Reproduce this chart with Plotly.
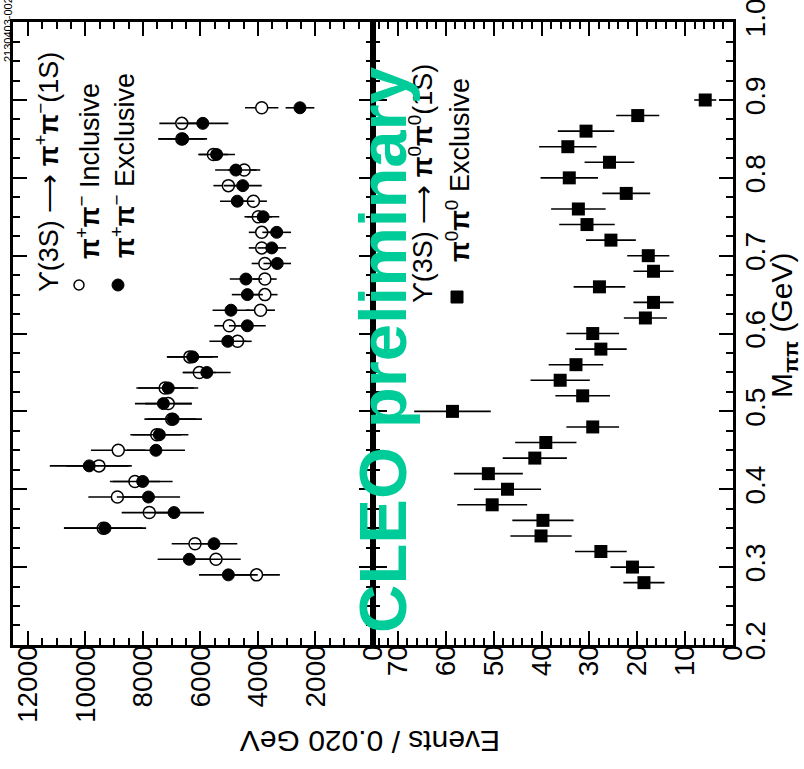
import plotly.graph_objects as go

# ---------------- data ----------------
# Upsilon(3S) -> pi+ pi- Upsilon(1S): mass bins (GeV)
m_pm = [0.29, 0.31, 0.33, 0.35, 0.37, 0.39, 0.41, 0.43, 0.45, 0.47, 0.49,
        0.51, 0.53, 0.55, 0.57, 0.59, 0.61, 0.63, 0.65, 0.67, 0.69, 0.71,
        0.73, 0.75, 0.77, 0.79, 0.81, 0.83, 0.85, 0.87, 0.89]
incl = [4050, 5460, 6190, 9380, 7780, 8890, 8280, 9530, 8860, 7520, 7000,
        7120, 7230, 6040, 6370, 4710, 5000, 3910, 3760, 3760, 3760, 3870,
        3870, 3990, 4160, 5030, 4480, 5550, 6650, 6650, 3870]
incl_err = [810, 860, 810, 1360, 960, 1010, 870, 1140, 950, 850, 850,
            810, 1000, 580, 800, 490, 520, 500, 440, 410, 460, 450,
            450, 480, 470, 520, 560, 500, 800, 780, 580]
excl = [5030, 6390, 5530, 9320, 6920, 7810, 8010, 9870, 7550, 7430, 6950,
        7290, 7120, 5780, 6270, 5050, 4370, 4940, 4370, 4420, 3330, 3520,
        3350, 3820, 4720, 4530, 4770, 5440, 6620, 5920, 2540]
excl_err = [1020, 1100, 810, 1430, 1040, 1100, 1040, 1370, 1010, 1010, 1000,
            990, 1040, 830, 880, 640, 640, 640, 540, 560, 480, 500,
            500, 560, 600, 660, 720, 640, 850, 890, 500]

# Upsilon(3S) -> pi0 pi0 Upsilon(1S)
m_00 = [0.28, 0.30, 0.32, 0.34, 0.36, 0.38, 0.40, 0.42, 0.44, 0.46, 0.48,
        0.50, 0.52, 0.54, 0.56, 0.58, 0.60, 0.62, 0.64, 0.66, 0.68, 0.70,
        0.72, 0.74, 0.76, 0.78, 0.80, 0.82, 0.84, 0.86, 0.88, 0.90]
n00 = [18.6, 21.0, 27.6, 40.1, 39.7, 50.3, 47.1, 51.1, 41.4, 39.1, 29.3,
       58.6, 31.4, 36.1, 32.8, 27.6, 29.3, 18.3, 16.6, 27.9, 16.6, 17.7,
       25.5, 30.5, 32.3, 22.3, 34.2, 25.8, 34.5, 30.7, 19.9, 5.8]
n00_err = [4.3, 4.6, 5.4, 6.4, 6.4, 7.3, 7.0, 7.2, 6.7, 6.4, 5.5,
           8.0, 5.7, 6.2, 5.7, 5.4, 5.5, 4.5, 4.2, 5.4, 4.2, 4.4,
           5.2, 5.8, 5.7, 5.0, 6.0, 5.2, 6.0, 5.9, 4.5, 2.3]

ev_ticks_pm = [0, 2000, 4000, 6000, 8000, 10000, 12000]
ev_ticks_00 = [0, 10, 20, 30, 40, 50, 60, 70]
m_ticks = [0.2, 0.3, 0.4, 0.5, 0.6, 0.7, 0.8, 0.9, 1.0]
m_ticktext = ["0.2", "0.3", "0.4", "0.5", "0.6", "0.7", "0.8", "0.9", "1.0"]

# ---------------- layout helpers ----------------
W, H = 804, 769
L, R, T, B = 13, 71, 22, 124
PW, PH = W - L - R, H - T - B


def px(x):
    return (x - L) / PW


def py(y):
    return (H - B - y) / PH


FONT = "Liberation Sans, Arial, Helvetica, sans-serif"
GREEN = "#00CC99"

fig = go.Figure()

err_style = dict(type="data", color="black", thickness=1.6, width=0)

fig.add_trace(go.Scatter(
    x=incl, y=m_pm, mode="markers", xaxis="x", yaxis="y",
    marker=dict(symbol="circle", size=12, color="white",
                line=dict(color="black", width=1.5)),
    error_x=dict(array=incl_err, **err_style), showlegend=False))
fig.add_trace(go.Scatter(
    x=excl, y=m_pm, mode="markers", xaxis="x", yaxis="y",
    marker=dict(symbol="circle", size=12, color="black",
                line=dict(color="black", width=1)),
    error_x=dict(array=excl_err, **err_style), showlegend=False))
fig.add_trace(go.Scatter(
    x=n00, y=m_00, mode="markers", xaxis="x2", yaxis="y2",
    marker=dict(symbol="square", size=13, color="black"),
    error_x=dict(array=n00_err, **err_style), showlegend=False))

ax = dict(showline=True, linecolor="black", linewidth=3, mirror="allticks",
          ticks="inside", ticklen=14, tickwidth=2, tickcolor="black",
          showgrid=False, zeroline=False, automargin=False,
          ticklabeloverflow="allow",
          tickfont=dict(family=FONT, size=28, color="black"))
minor = lambda d: dict(dtick=d, ticks="inside", ticklen=7, tickwidth=2,
                       tickcolor="black", showgrid=False)

fig.update_layout(
    template="none",
    width=W, height=H,
    margin=dict(l=L, r=R, t=T, b=B, pad=0, autoexpand=False),
    paper_bgcolor="white", plot_bgcolor="white",
    xaxis=dict(domain=[0, 0.5], range=[12520, 0], anchor="y",
               tickvals=ev_ticks_pm, ticktext=[str(v) for v in ev_ticks_pm],
               tickangle=-90, minor=minor(500), ticklabelstandoff=-14, **ax),
    xaxis2=dict(domain=[0.5, 1], range=[75.2, 0], anchor="y2",
                tickvals=ev_ticks_00, ticktext=[str(v) for v in ev_ticks_00],
                tickangle=-90, minor=minor(2), ticklabelstandoff=-14, **ax),
    yaxis=dict(domain=[0, 1], range=[0.1999, 1.0002], anchor="x",
               tickvals=m_ticks, minor=minor(0.025), showticklabels=False, **ax),
    yaxis2=dict(domain=[0, 1], range=[0.1999, 1.0002], anchor="x2", side="right",
                tickvals=m_ticks, ticktext=m_ticktext, tickangle=-90,
                minor=minor(0.025), ticklabelstandoff=-5, **ax),
)

ann = []


def text(x, y, s, size=28, angle=-90, color="black", xa="center", ya="middle"):
    ann.append(dict(x=px(x), y=py(y), xref="paper", yref="paper", text=s,
                    showarrow=False, textangle=angle, xanchor=xa, yanchor=ya,
                    font=dict(family=FONT, size=size, color=color)))


pi = "<b>π</b>"
UPS = "ϒ(3S) ⟶ "
text(47, 172, UPS + pi + "<sup>+</sup>" + pi + "<sup>−</sup>(1S)", 27)
text(88, 171, pi + "<sup>+</sup>" + pi + "<sup>−</sup> Inclusive", 27)
text(123, 166, pi + "<sup>+</sup>" + pi + "<sup>−</sup> Exclusive", 27)
text(421, 184, UPS + pi + "<sup>0</sup>" + pi + "<sup>0</sup>(1S)", 27)
text(458, 170, pi + "<sup>0</sup>" + pi + "<sup>0</sup> Exclusive", 27)
text(8, 30, "2130403-002", 11)
text(783, 325, "M<sub><b>ππ</b></sub> (GeV)", 30)
text(370, 742, "Events / 0.020 GeV", 30, angle=180)
text(382, 350, "<b>CLEO preliminary</b>", 67, color=GREEN)

shapes = [
    dict(type="circle", xref="paper", yref="paper",
         x0=px(74), x1=px(84), y0=py(290), y1=py(280),
         line=dict(color="black", width=1.5), fillcolor="white"),
    dict(type="circle", xref="paper", yref="paper",
         x0=px(112), x1=px(124), y0=py(291), y1=py(279),
         line=dict(color="black", width=1), fillcolor="black"),
    dict(type="rect", xref="paper", yref="paper",
         x0=px(451), x1=px(463), y0=py(303), y1=py(291),
         line=dict(color="black", width=1), fillcolor="black"),
]

fig.update_layout(annotations=ann, shapes=shapes)

fig.write_html("out.html",
               config={"displayModeBar": False},
               post_script="document.body.style.margin='0';"
                           "document.body.style.padding='0';")
